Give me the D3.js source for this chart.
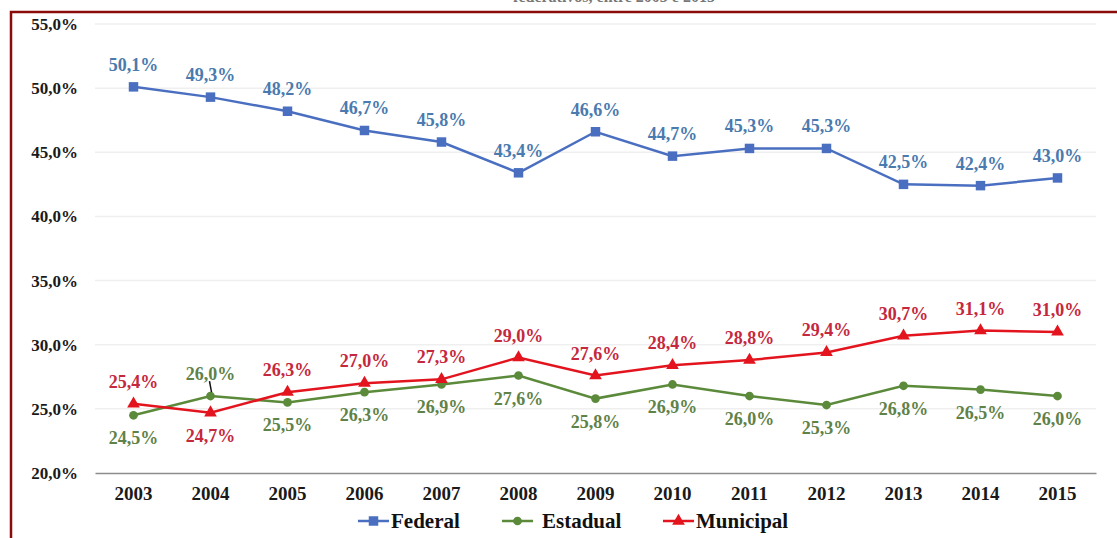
<!DOCTYPE html>
<meta charset="utf-8">
<script src="https://d3js.org/d3.v7.min.js"></script>
<style>
    body { margin: 0; background: #fff; }
    text { font-family: "Liberation Serif", "DejaVu Serif", serif; font-weight: bold; }
</style>
<div id="viz_area"></div>
<script>
    var years = ["2003", "2004", "2005", "2006", "2007", "2008", "2009", "2010", "2011", "2012", "2013", "2014", "2015"]
    var federal = [50.1, 49.3, 48.2, 46.7, 45.8, 43.4, 46.6, 44.7, 45.3, 45.3, 42.5, 42.4, 43.0]
    var estadual = [24.5, 26.0, 25.5, 26.3, 26.9, 27.6, 25.8, 26.9, 26.0, 25.3, 26.8, 26.5, 26.0]
    var municipal = [25.4, 24.7, 26.3, 27.0, 27.3, 29.0, 27.6, 28.4, 28.8, 29.4, 30.7, 31.1, 31.0]
    var yTicks = [20, 25, 30, 35, 40, 45, 50, 55]
    // label side per point: 1 = above, -1 = below
    var fedSide = [1, 1, 1, 1, 1, 1, 1, 1, 1, 1, 1, 1, 1]
    var estSide = [-1, 1, -1, -1, -1, -1, -1, -1, -1, -1, -1, -1, -1]
    var munSide = [1, -1, 1, 1, 1, 1, 1, 1, 1, 1, 1, 1, 1]

    var W = 1117, H = 538
    var svg = d3.select("#viz_area").append("svg")
        .attr("width", W).attr("height", H)

    // title, cropped by the top edge as in the source image
    svg.append("text")
        .attr("x", 614).attr("y", 2)
        .attr("text-anchor", "middle")
        .attr("font-size", "16px")
        .attr("fill", "#777")
        .text("federativos, entre 2003 e 2015")

    svg.append("rect")
        .attr("x", 11).attr("y", 12)
        .attr("width", W + 20).attr("height", H + 20)
        .attr("fill", "none")
        .attr("stroke", "#8b0a0a")
        .attr("stroke-width", 2.5)

    var x = d3.scaleBand().domain(years).range([95, 1096])
    var y = d3.scaleLinear().domain([20, 55]).range([473, 24])
    var cx = function(i) { return x(years[i]) + x.bandwidth() / 2 }

    var fmt = function(v) { return d3.format(".1f")(v).replace(".", ",") + "%" }

    // gridlines
    svg.append("g").selectAll("line")
        .data(yTicks.slice(1))
        .enter().append("line")
        .attr("x1", 95).attr("x2", 1096)
        .attr("y1", function(d) { return y(d) }).attr("y2", function(d) { return y(d) })
        .attr("stroke", "#efefef").attr("stroke-width", 1.5)

    var yAxis = svg.append("g")
        .attr("transform", "translate(95,0)")
        .call(d3.axisLeft(y).tickValues(yTicks).tickSize(0).tickPadding(17).tickFormat(fmt))
    yAxis.select(".domain").remove()
    yAxis.selectAll("text").attr("font-size", "17px").attr("fill", "#1a1a1a")
        .attr("font-family", "Liberation Serif").attr("font-weight", "bold")

    var xAxis = svg.append("g")
        .attr("transform", "translate(0," + y(20) + ")")
        .call(d3.axisBottom(x).tickSize(0).tickPadding(14))
    xAxis.select(".domain").attr("stroke", "#8c8c8c").attr("stroke-width", 1.5)
    xAxis.selectAll("text").attr("font-size", "19px").attr("fill", "#1a1a1a")
        .attr("font-family", "Liberation Serif").attr("font-weight", "bold")

    var series = [
        { name: "Federal", values: federal, side: fedSide, line: "#4a6fc0", label: "#4a7aae", shape: d3.symbolSquare, size: 90 },
        { name: "Estadual", values: estadual, side: estSide, line: "#5b8a3a", label: "#5f8248", shape: d3.symbolCircle, size: 60 },
        { name: "Municipal", values: municipal, side: munSide, line: "#e3141e", label: "#c5283c", shape: d3.symbolTriangle, size: 70 }
    ]

    var line = d3.line()
        .x(function(d, i) { return cx(i) })
        .y(function(d) { return y(d) })

    series.forEach(function(s) {
        var g = svg.append("g")
        g.append("path")
            .attr("d", line(s.values))
            .attr("fill", "none")
            .attr("stroke", s.line)
            .attr("stroke-width", 2.5)
        g.selectAll(".mark")
            .data(s.values)
            .enter().append("path")
            .attr("class", "mark")
            .attr("transform", function(d, i) { return "translate(" + cx(i) + "," + y(d) + ")" })
            .attr("d", d3.symbol().type(s.shape).size(s.size))
            .attr("fill", s.line)
    })

    series.forEach(function(s) {
        svg.append("g").selectAll("text")
            .data(s.values)
            .enter().append("text")
            .attr("x", function(d, i) { return cx(i) })
            .attr("y", function(d, i) { return y(d) + (s.side[i] > 0 ? -16 : 29) })
            .attr("text-anchor", "middle")
            .attr("font-size", "18px")
            .attr("fill", s.label)
            .text(fmt)
    })

    // leader line for Estadual 2004
    svg.append("line")
        .attr("x1", cx(1) - 1).attr("y1", y(estadual[1]) - 15)
        .attr("x2", cx(1) + 1).attr("y2", y(estadual[1]) - 4)
        .attr("stroke", "#111").attr("stroke-width", 1.5)

    // legend
    var legX = [358, 502, 663]
    var legend = svg.selectAll(".legend")
        .data(series)
        .enter().append("g")
        .attr("class", "legend")
        .attr("transform", function(d, i) { return "translate(" + legX[i] + ",521)" })
    legend.append("line")
        .attr("x1", 0).attr("x2", 31)
        .attr("stroke", function(d) { return d.line })
        .attr("stroke-width", 2.5)
    legend.append("path")
        .attr("transform", "translate(15.5,0)")
        .attr("d", function(d) { return d3.symbol().type(d.shape).size(d.size)() })
        .attr("fill", function(d) { return d.line })
    legend.append("text")
        .attr("x", function(d, i) { return i == 1 ? 40 : 33 })
        .attr("dy", "0.35em")
        .attr("font-size", "21px")
        .attr("fill", "#111")
        .text(function(d) { return d.name })
</script>
